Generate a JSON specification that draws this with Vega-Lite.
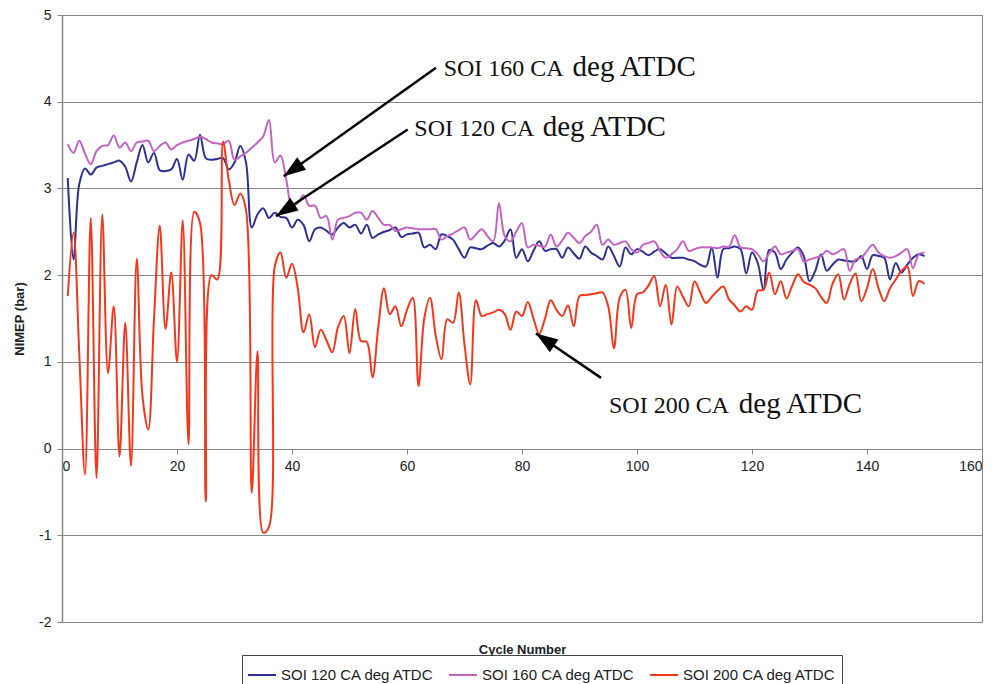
{
"$schema":"https://vega.github.io/schema/vega-lite/v6.json",
"width":920,"height":607,
"autosize":{"type":"none"},
"padding":{"left":62,"top":15,"right":14,"bottom":62},
"background":"white",
"config":{"view":{"stroke":"#888","strokeWidth":1},"font":"Liberation Sans"},
"layer":[
{
"data":{"values":[
{"c":1,"v":3.12,"s":"120"},{"c":2,"v":2.18,"s":"120"},{"c":3,"v":3.05,"s":"120"},{"c":4,"v":3.23,"s":"120"},{"c":5,"v":3.16,"s":"120"},{"c":6,"v":3.24,"s":"120"},{"c":7,"v":3.26,"s":"120"},{"c":8,"v":3.28,"s":"120"},{"c":9,"v":3.3,"s":"120"},{"c":10,"v":3.32,"s":"120"},
{"c":11,"v":3.25,"s":"120"},{"c":12,"v":3.08,"s":"120"},{"c":13,"v":3.3,"s":"120"},{"c":14,"v":3.5,"s":"120"},{"c":15,"v":3.3,"s":"120"},{"c":16,"v":3.41,"s":"120"},{"c":17,"v":3.21,"s":"120"},{"c":18,"v":3.2,"s":"120"},{"c":19,"v":3.22,"s":"120"},{"c":20,"v":3.34,"s":"120"},
{"c":21,"v":3.1,"s":"120"},{"c":22,"v":3.39,"s":"120"},{"c":23,"v":3.32,"s":"120"},{"c":24,"v":3.62,"s":"120"},{"c":25,"v":3.35,"s":"120"},{"c":26,"v":3.33,"s":"120"},{"c":27,"v":3.34,"s":"120"},{"c":28,"v":3.35,"s":"120"},{"c":29,"v":3.22,"s":"120"},{"c":30,"v":3.3,"s":"120"},
{"c":31,"v":3.49,"s":"120"},{"c":32,"v":3.3,"s":"120"},{"c":33,"v":2.55,"s":"120"},{"c":34,"v":2.7,"s":"120"},{"c":35,"v":2.77,"s":"120"},{"c":36,"v":2.66,"s":"120"},{"c":37,"v":2.72,"s":"120"},{"c":38,"v":2.67,"s":"120"},{"c":39,"v":2.66,"s":"120"},{"c":40,"v":2.55,"s":"120"},
{"c":41,"v":2.64,"s":"120"},{"c":42,"v":2.58,"s":"120"},{"c":43,"v":2.39,"s":"120"},{"c":44,"v":2.53,"s":"120"},{"c":45,"v":2.55,"s":"120"},{"c":46,"v":2.51,"s":"120"},{"c":47,"v":2.47,"s":"120"},{"c":48,"v":2.55,"s":"120"},{"c":49,"v":2.6,"s":"120"},{"c":50,"v":2.55,"s":"120"},
{"c":51,"v":2.58,"s":"120"},{"c":52,"v":2.48,"s":"120"},{"c":53,"v":2.58,"s":"120"},{"c":54,"v":2.43,"s":"120"},{"c":55,"v":2.47,"s":"120"},{"c":56,"v":2.5,"s":"120"},{"c":57,"v":2.52,"s":"120"},{"c":58,"v":2.55,"s":"120"},{"c":59,"v":2.44,"s":"120"},{"c":60,"v":2.47,"s":"120"},
{"c":61,"v":2.48,"s":"120"},{"c":62,"v":2.49,"s":"120"},{"c":63,"v":2.32,"s":"120"},{"c":64,"v":2.35,"s":"120"},{"c":65,"v":2.3,"s":"120"},{"c":66,"v":2.47,"s":"120"},{"c":67,"v":2.45,"s":"120"},{"c":68,"v":2.41,"s":"120"},{"c":69,"v":2.3,"s":"120"},{"c":70,"v":2.2,"s":"120"},
{"c":71,"v":2.32,"s":"120"},{"c":72,"v":2.31,"s":"120"},{"c":73,"v":2.3,"s":"120"},{"c":74,"v":2.34,"s":"120"},{"c":75,"v":2.37,"s":"120"},{"c":76,"v":2.33,"s":"120"},{"c":77,"v":2.4,"s":"120"},{"c":78,"v":2.53,"s":"120"},{"c":79,"v":2.2,"s":"120"},{"c":80,"v":2.3,"s":"120"},
{"c":81,"v":2.16,"s":"120"},{"c":82,"v":2.28,"s":"120"},{"c":83,"v":2.39,"s":"120"},{"c":84,"v":2.28,"s":"120"},{"c":85,"v":2.3,"s":"120"},{"c":86,"v":2.3,"s":"120"},{"c":87,"v":2.2,"s":"120"},{"c":88,"v":2.32,"s":"120"},{"c":89,"v":2.25,"s":"120"},{"c":90,"v":2.19,"s":"120"},
{"c":91,"v":2.33,"s":"120"},{"c":92,"v":2.26,"s":"120"},{"c":93,"v":2.22,"s":"120"},{"c":94,"v":2.18,"s":"120"},{"c":95,"v":2.33,"s":"120"},{"c":96,"v":2.22,"s":"120"},{"c":97,"v":2.1,"s":"120"},{"c":98,"v":2.32,"s":"120"},{"c":99,"v":2.24,"s":"120"},{"c":100,"v":2.3,"s":"120"},
{"c":101,"v":2.27,"s":"120"},{"c":102,"v":2.23,"s":"120"},{"c":103,"v":2.27,"s":"120"},{"c":104,"v":2.3,"s":"120"},{"c":105,"v":2.25,"s":"120"},{"c":106,"v":2.2,"s":"120"},{"c":107,"v":2.2,"s":"120"},{"c":108,"v":2.2,"s":"120"},{"c":109,"v":2.18,"s":"120"},{"c":110,"v":2.16,"s":"120"},
{"c":111,"v":2.12,"s":"120"},{"c":112,"v":2.1,"s":"120"},{"c":113,"v":2.32,"s":"120"},{"c":114,"v":1.97,"s":"120"},{"c":115,"v":2.3,"s":"120"},{"c":116,"v":2.31,"s":"120"},{"c":117,"v":2.33,"s":"120"},{"c":118,"v":2.3,"s":"120"},{"c":119,"v":2.02,"s":"120"},{"c":120,"v":2.26,"s":"120"},
{"c":121,"v":2.14,"s":"120"},{"c":122,"v":1.83,"s":"120"},{"c":123,"v":2.29,"s":"120"},{"c":124,"v":2.26,"s":"120"},{"c":125,"v":2.07,"s":"120"},{"c":126,"v":2.18,"s":"120"},{"c":127,"v":2.26,"s":"120"},{"c":128,"v":2.32,"s":"120"},{"c":129,"v":2.22,"s":"120"},{"c":130,"v":1.93,"s":"120"},
{"c":131,"v":2.05,"s":"120"},{"c":132,"v":2.24,"s":"120"},{"c":133,"v":2.05,"s":"120"},{"c":134,"v":2.12,"s":"120"},{"c":135,"v":2.18,"s":"120"},{"c":136,"v":2.17,"s":"120"},{"c":137,"v":2.16,"s":"120"},{"c":138,"v":2.16,"s":"120"},{"c":139,"v":2.22,"s":"120"},{"c":140,"v":2.07,"s":"120"},
{"c":141,"v":2.23,"s":"120"},{"c":142,"v":2.22,"s":"120"},{"c":143,"v":2.2,"s":"120"},{"c":144,"v":1.95,"s":"120"},{"c":145,"v":2.14,"s":"120"},{"c":146,"v":2.03,"s":"120"},{"c":147,"v":2.12,"s":"120"},{"c":148,"v":2.2,"s":"120"},{"c":149,"v":2.24,"s":"120"},{"c":150,"v":2.22,"s":"120"},

{"c":1,"v":3.51,"s":"160"},{"c":2,"v":3.41,"s":"160"},{"c":3,"v":3.55,"s":"160"},{"c":4,"v":3.4,"s":"160"},{"c":5,"v":3.28,"s":"160"},{"c":6,"v":3.43,"s":"160"},{"c":7,"v":3.49,"s":"160"},{"c":8,"v":3.5,"s":"160"},{"c":9,"v":3.61,"s":"160"},{"c":10,"v":3.47,"s":"160"},
{"c":11,"v":3.53,"s":"160"},{"c":12,"v":3.43,"s":"160"},{"c":13,"v":3.53,"s":"160"},{"c":14,"v":3.54,"s":"160"},{"c":15,"v":3.55,"s":"160"},{"c":16,"v":3.43,"s":"160"},{"c":17,"v":3.49,"s":"160"},{"c":18,"v":3.53,"s":"160"},{"c":19,"v":3.45,"s":"160"},{"c":20,"v":3.5,"s":"160"},
{"c":21,"v":3.53,"s":"160"},{"c":22,"v":3.55,"s":"160"},{"c":23,"v":3.57,"s":"160"},{"c":24,"v":3.6,"s":"160"},{"c":25,"v":3.57,"s":"160"},{"c":26,"v":3.53,"s":"160"},{"c":27,"v":3.52,"s":"160"},{"c":28,"v":3.51,"s":"160"},{"c":29,"v":3.55,"s":"160"},{"c":30,"v":3.33,"s":"160"},
{"c":31,"v":3.37,"s":"160"},{"c":32,"v":3.41,"s":"160"},{"c":33,"v":3.47,"s":"160"},{"c":34,"v":3.53,"s":"160"},{"c":35,"v":3.6,"s":"160"},{"c":36,"v":3.79,"s":"160"},{"c":37,"v":3.3,"s":"160"},{"c":38,"v":3.38,"s":"160"},{"c":39,"v":3.1,"s":"160"},{"c":40,"v":2.8,"s":"160"},
{"c":41,"v":2.83,"s":"160"},{"c":42,"v":2.92,"s":"160"},{"c":43,"v":2.8,"s":"160"},{"c":44,"v":2.8,"s":"160"},{"c":45,"v":2.66,"s":"160"},{"c":46,"v":2.68,"s":"160"},{"c":47,"v":2.41,"s":"160"},{"c":48,"v":2.64,"s":"160"},{"c":49,"v":2.66,"s":"160"},{"c":50,"v":2.68,"s":"160"},
{"c":51,"v":2.72,"s":"160"},{"c":52,"v":2.72,"s":"160"},{"c":53,"v":2.64,"s":"160"},{"c":54,"v":2.74,"s":"160"},{"c":55,"v":2.66,"s":"160"},{"c":56,"v":2.58,"s":"160"},{"c":57,"v":2.58,"s":"160"},{"c":58,"v":2.51,"s":"160"},{"c":59,"v":2.53,"s":"160"},{"c":60,"v":2.55,"s":"160"},
{"c":61,"v":2.54,"s":"160"},{"c":62,"v":2.53,"s":"160"},{"c":63,"v":2.53,"s":"160"},{"c":64,"v":2.53,"s":"160"},{"c":65,"v":2.53,"s":"160"},{"c":66,"v":2.41,"s":"160"},{"c":67,"v":2.45,"s":"160"},{"c":68,"v":2.48,"s":"160"},{"c":69,"v":2.52,"s":"160"},{"c":70,"v":2.55,"s":"160"},
{"c":71,"v":2.41,"s":"160"},{"c":72,"v":2.47,"s":"160"},{"c":73,"v":2.53,"s":"160"},{"c":74,"v":2.45,"s":"160"},{"c":75,"v":2.39,"s":"160"},{"c":76,"v":2.83,"s":"160"},{"c":77,"v":2.45,"s":"160"},{"c":78,"v":2.39,"s":"160"},{"c":79,"v":2.5,"s":"160"},{"c":80,"v":2.6,"s":"160"},
{"c":81,"v":2.32,"s":"160"},{"c":82,"v":2.35,"s":"160"},{"c":83,"v":2.34,"s":"160"},{"c":84,"v":2.33,"s":"160"},{"c":85,"v":2.47,"s":"160"},{"c":86,"v":2.33,"s":"160"},{"c":87,"v":2.4,"s":"160"},{"c":88,"v":2.49,"s":"160"},{"c":89,"v":2.43,"s":"160"},{"c":90,"v":2.37,"s":"160"},
{"c":91,"v":2.45,"s":"160"},{"c":92,"v":2.5,"s":"160"},{"c":93,"v":2.58,"s":"160"},{"c":94,"v":2.35,"s":"160"},{"c":95,"v":2.41,"s":"160"},{"c":96,"v":2.35,"s":"160"},{"c":97,"v":2.37,"s":"160"},{"c":98,"v":2.39,"s":"160"},{"c":99,"v":2.3,"s":"160"},{"c":100,"v":2.26,"s":"160"},
{"c":101,"v":2.35,"s":"160"},{"c":102,"v":2.37,"s":"160"},{"c":103,"v":2.39,"s":"160"},{"c":104,"v":2.28,"s":"160"},{"c":105,"v":2.2,"s":"160"},{"c":106,"v":2.24,"s":"160"},{"c":107,"v":2.3,"s":"160"},{"c":108,"v":2.39,"s":"160"},{"c":109,"v":2.28,"s":"160"},{"c":110,"v":2.3,"s":"160"},
{"c":111,"v":2.32,"s":"160"},{"c":112,"v":2.32,"s":"160"},{"c":113,"v":2.32,"s":"160"},{"c":114,"v":2.31,"s":"160"},{"c":115,"v":2.33,"s":"160"},{"c":116,"v":2.33,"s":"160"},{"c":117,"v":2.46,"s":"160"},{"c":118,"v":2.32,"s":"160"},{"c":119,"v":2.31,"s":"160"},{"c":120,"v":2.3,"s":"160"},
{"c":121,"v":2.24,"s":"160"},{"c":122,"v":2.16,"s":"160"},{"c":123,"v":2.25,"s":"160"},{"c":124,"v":2.33,"s":"160"},{"c":125,"v":2.24,"s":"160"},{"c":126,"v":2.26,"s":"160"},{"c":127,"v":2.28,"s":"160"},{"c":128,"v":2.3,"s":"160"},{"c":129,"v":2.16,"s":"160"},{"c":130,"v":2.18,"s":"160"},
{"c":131,"v":2.2,"s":"160"},{"c":132,"v":2.22,"s":"160"},{"c":133,"v":2.28,"s":"160"},{"c":134,"v":2.24,"s":"160"},{"c":135,"v":2.27,"s":"160"},{"c":136,"v":2.3,"s":"160"},{"c":137,"v":2.05,"s":"160"},{"c":138,"v":2.18,"s":"160"},{"c":139,"v":2.2,"s":"160"},{"c":140,"v":2.28,"s":"160"},
{"c":141,"v":2.35,"s":"160"},{"c":142,"v":2.26,"s":"160"},{"c":143,"v":2.22,"s":"160"},{"c":144,"v":2.2,"s":"160"},{"c":145,"v":2.22,"s":"160"},{"c":146,"v":2.26,"s":"160"},{"c":147,"v":2.3,"s":"160"},{"c":148,"v":2.08,"s":"160"},{"c":149,"v":2.24,"s":"160"},{"c":150,"v":2.26,"s":"160"},

{"c":1,"v":1.76,"s":"200"},{"c":2,"v":2.49,"s":"200"},{"c":3,"v":1.1,"s":"200"},{"c":4,"v":-0.3,"s":"200"},{"c":5,"v":2.66,"s":"200"},{"c":6,"v":-0.34,"s":"200"},{"c":7,"v":2.7,"s":"200"},{"c":8,"v":0.87,"s":"200"},{"c":9,"v":1.64,"s":"200"},{"c":10,"v":-0.09,"s":"200"},
{"c":11,"v":1.45,"s":"200"},{"c":12,"v":-0.2,"s":"200"},{"c":13,"v":2.19,"s":"200"},{"c":14,"v":0.6,"s":"200"},{"c":15,"v":0.22,"s":"200"},{"c":16,"v":1.5,"s":"200"},{"c":17,"v":2.57,"s":"200"},{"c":18,"v":1.38,"s":"200"},{"c":19,"v":2.03,"s":"200"},{"c":20,"v":1.0,"s":"200"},
{"c":21,"v":2.63,"s":"200"},{"c":22,"v":0.05,"s":"200"},{"c":23,"v":2.73,"s":"200"},{"c":24,"v":2.6,"s":"200"},{"c":25,"v":-0.61,"s":"200"},{"c":26,"v":2.0,"s":"200"},{"c":27,"v":1.95,"s":"200"},{"c":28,"v":3.54,"s":"200"},{"c":29,"v":3.1,"s":"200"},{"c":30,"v":2.81,"s":"200"},
{"c":31,"v":2.94,"s":"200"},{"c":32,"v":2.75,"s":"200"},{"c":33,"v":-0.51,"s":"200"},{"c":34,"v":1.12,"s":"200"},{"c":35,"v":-0.97,"s":"200"},{"c":36,"v":-0.9,"s":"200"},{"c":37,"v":2.1,"s":"200"},{"c":38,"v":2.26,"s":"200"},{"c":39,"v":1.97,"s":"200"},{"c":40,"v":2.13,"s":"200"},
{"c":41,"v":1.85,"s":"200"},{"c":42,"v":1.34,"s":"200"},{"c":43,"v":1.55,"s":"200"},{"c":44,"v":1.17,"s":"200"},{"c":45,"v":1.37,"s":"200"},{"c":46,"v":1.25,"s":"200"},{"c":47,"v":1.11,"s":"200"},{"c":48,"v":1.4,"s":"200"},{"c":49,"v":1.53,"s":"200"},{"c":50,"v":1.1,"s":"200"},
{"c":51,"v":1.61,"s":"200"},{"c":52,"v":1.24,"s":"200"},{"c":53,"v":1.23,"s":"200"},{"c":54,"v":0.82,"s":"200"},{"c":55,"v":1.4,"s":"200"},{"c":56,"v":1.85,"s":"200"},{"c":57,"v":1.55,"s":"200"},{"c":58,"v":1.64,"s":"200"},{"c":59,"v":1.41,"s":"200"},{"c":60,"v":1.6,"s":"200"},
{"c":61,"v":1.74,"s":"200"},{"c":62,"v":0.72,"s":"200"},{"c":63,"v":1.5,"s":"200"},{"c":64,"v":1.74,"s":"200"},{"c":65,"v":1.3,"s":"200"},{"c":66,"v":1.03,"s":"200"},{"c":67,"v":1.49,"s":"200"},{"c":68,"v":1.45,"s":"200"},{"c":69,"v":1.8,"s":"200"},{"c":70,"v":1.2,"s":"200"},
{"c":71,"v":0.74,"s":"200"},{"c":72,"v":1.71,"s":"200"},{"c":73,"v":1.53,"s":"200"},{"c":74,"v":1.55,"s":"200"},{"c":75,"v":1.57,"s":"200"},{"c":76,"v":1.6,"s":"200"},{"c":77,"v":1.55,"s":"200"},{"c":78,"v":1.37,"s":"200"},{"c":79,"v":1.58,"s":"200"},{"c":80,"v":1.53,"s":"200"},
{"c":81,"v":1.69,"s":"200"},{"c":82,"v":1.5,"s":"200"},{"c":83,"v":1.32,"s":"200"},{"c":84,"v":1.5,"s":"200"},{"c":85,"v":1.71,"s":"200"},{"c":86,"v":1.6,"s":"200"},{"c":87,"v":1.53,"s":"200"},{"c":88,"v":1.65,"s":"200"},{"c":89,"v":1.41,"s":"200"},{"c":90,"v":1.76,"s":"200"},
{"c":91,"v":1.77,"s":"200"},{"c":92,"v":1.78,"s":"200"},{"c":93,"v":1.79,"s":"200"},{"c":94,"v":1.8,"s":"200"},{"c":95,"v":1.64,"s":"200"},{"c":96,"v":1.16,"s":"200"},{"c":97,"v":1.74,"s":"200"},{"c":98,"v":1.83,"s":"200"},{"c":99,"v":1.39,"s":"200"},{"c":100,"v":1.78,"s":"200"},
{"c":101,"v":1.8,"s":"200"},{"c":102,"v":1.88,"s":"200"},{"c":103,"v":1.99,"s":"200"},{"c":104,"v":1.64,"s":"200"},{"c":105,"v":1.89,"s":"200"},{"c":106,"v":1.43,"s":"200"},{"c":107,"v":1.87,"s":"200"},{"c":108,"v":1.75,"s":"200"},{"c":109,"v":1.64,"s":"200"},{"c":110,"v":1.93,"s":"200"},
{"c":111,"v":1.8,"s":"200"},{"c":112,"v":1.68,"s":"200"},{"c":113,"v":1.75,"s":"200"},{"c":114,"v":1.82,"s":"200"},{"c":115,"v":1.87,"s":"200"},{"c":116,"v":1.72,"s":"200"},{"c":117,"v":1.65,"s":"200"},{"c":118,"v":1.58,"s":"200"},{"c":119,"v":1.64,"s":"200"},{"c":120,"v":1.6,"s":"200"},
{"c":121,"v":1.82,"s":"200"},{"c":122,"v":1.83,"s":"200"},{"c":123,"v":2.03,"s":"200"},{"c":124,"v":1.78,"s":"200"},{"c":125,"v":1.93,"s":"200"},{"c":126,"v":1.73,"s":"200"},{"c":127,"v":1.88,"s":"200"},{"c":128,"v":2.01,"s":"200"},{"c":129,"v":1.92,"s":"200"},{"c":130,"v":1.89,"s":"200"},
{"c":131,"v":1.85,"s":"200"},{"c":132,"v":1.75,"s":"200"},{"c":133,"v":1.68,"s":"200"},{"c":134,"v":1.9,"s":"200"},{"c":135,"v":2.01,"s":"200"},{"c":136,"v":1.72,"s":"200"},{"c":137,"v":1.9,"s":"200"},{"c":138,"v":2.02,"s":"200"},{"c":139,"v":1.7,"s":"200"},{"c":140,"v":1.85,"s":"200"},
{"c":141,"v":2.07,"s":"200"},{"c":142,"v":1.85,"s":"200"},{"c":143,"v":1.7,"s":"200"},{"c":144,"v":1.85,"s":"200"},{"c":145,"v":1.95,"s":"200"},{"c":146,"v":2.05,"s":"200"},{"c":147,"v":2.1,"s":"200"},{"c":148,"v":1.76,"s":"200"},{"c":149,"v":1.93,"s":"200"},{"c":150,"v":1.9,"s":"200"}
]},
"mark":{"type":"line","interpolate":"catmull-rom","strokeWidth":2},
"encoding":{
"x":{"field":"c","type":"quantitative","scale":{"domain":[0,160],"nice":false,"zero":false},
"axis":{"values":[0,20,40,60,80,100,120,140,160],"grid":false,"offset":-173,"domainColor":"#888","domainWidth":1,"tickColor":"#888","tickSize":5,"labelFont":"Liberation Sans","labelFontSize":14,"labelColor":"#222","labelPadding":5,"title":"Cycle Number","titleFont":"Liberation Sans","titleFontSize":13,"titleFontWeight":"bold","titleColor":"#222","titleY":204,"titleBaseline":"alphabetic"}},
"y":{"field":"v","type":"quantitative","scale":{"domain":[-2,5],"nice":false,"zero":false},
"axis":{"values":[-2,-1,0,1,2,3,4,5],"labelExpr":"datum.value < 0 ? '-' + abs(datum.value) : '' + datum.value","grid":true,"gridColor":"#888","gridWidth":1,"domainColor":"#888","domainWidth":1.5,"tickColor":"#888","tickSize":5,"labelFont":"Liberation Sans","labelFontSize":14,"labelColor":"#222","labelPadding":6,"title":"NIMEP (bar)","titleFont":"Liberation Sans","titleFontSize":13,"titleFontWeight":"bold","titleColor":"#222","titlePadding":12}},
"color":{"field":"s","type":"nominal","scale":{"domain":["120","160","200"],"range":["#2E3192","#C463C4","#F5381C"]},
"legend":{"orient":"none","legendX":180,"legendY":640,"direction":"horizontal","title":null,"symbolType":"stroke","symbolStrokeWidth":2,"symbolSize":784,"labelFont":"Liberation Sans","labelFontSize":15,"labelColor":"#222","labelExpr":"'SOI ' + datum.label + ' CA deg ATDC'","strokeColor":"#444","fillColor":"white","padding":5,"columnPadding":10,"labelLimit":300}}
}
},
{
"data":{"values":[{"c":65.04,"v":4.391,"c2":38.56,"v2":3.141},{"c":60.12,"v":3.679,"c2":37.22,"v2":2.679},{"c":93.74,"v":0.815,"c2":82.43,"v2":1.326}]},
"mark":{"type":"rule","color":"black","strokeWidth":2.5},
"encoding":{"x":{"field":"c","type":"quantitative"},"y":{"field":"v","type":"quantitative"},"x2":{"field":"c2"},"y2":{"field":"v2"}}
},
{
"data":{"values":[{"c":38.56,"v":3.141}]},
"mark":{"type":"point","shape":"M0,0L-0.7,2L0.7,2Z","filled":true,"color":"black","opacity":1,"size":484,"angle":234.6},
"encoding":{"x":{"field":"c","type":"quantitative"},"y":{"field":"v","type":"quantitative"}}
},
{
"data":{"values":[{"c":37.22,"v":2.679}]},
"mark":{"type":"point","shape":"M0,0L-0.7,2L0.7,2Z","filled":true,"color":"black","opacity":1,"size":484,"angle":236.6},
"encoding":{"x":{"field":"c","type":"quantitative"},"y":{"field":"v","type":"quantitative"}}
},
{
"data":{"values":[{"c":82.43,"v":1.326}]},
"mark":{"type":"point","shape":"M0,0L-0.7,2L0.7,2Z","filled":true,"color":"black","opacity":1,"size":484,"angle":304.3},
"encoding":{"x":{"field":"c","type":"quantitative"},"y":{"field":"v","type":"quantitative"}}
},
{
"data":{"values":[{"c":66.38,"v":4.302,"t":"SOI 160 CA"},{"c":61.27,"v":3.602,"t":"SOI 120 CA"},{"c":95.13,"v":0.415,"t":"SOI 200 CA"}]},
"mark":{"type":"text","align":"left","baseline":"alphabetic","font":"Liberation Serif","fontSize":24,"color":"#111"},
"encoding":{"x":{"field":"c","type":"quantitative"},"y":{"field":"v","type":"quantitative"},"text":{"field":"t"}}
},
{
"data":{"values":[{"c":88.8,"v":4.302,"t":"deg ATDC"},{"c":83.6,"v":3.602,"t":"deg ATDC"},{"c":117.7,"v":0.415,"t":"deg ATDC"}]},
"mark":{"type":"text","align":"left","baseline":"alphabetic","font":"Liberation Serif","fontSize":29,"color":"#111"},
"encoding":{"x":{"field":"c","type":"quantitative"},"y":{"field":"v","type":"quantitative"},"text":{"field":"t"}}
}
]
}
